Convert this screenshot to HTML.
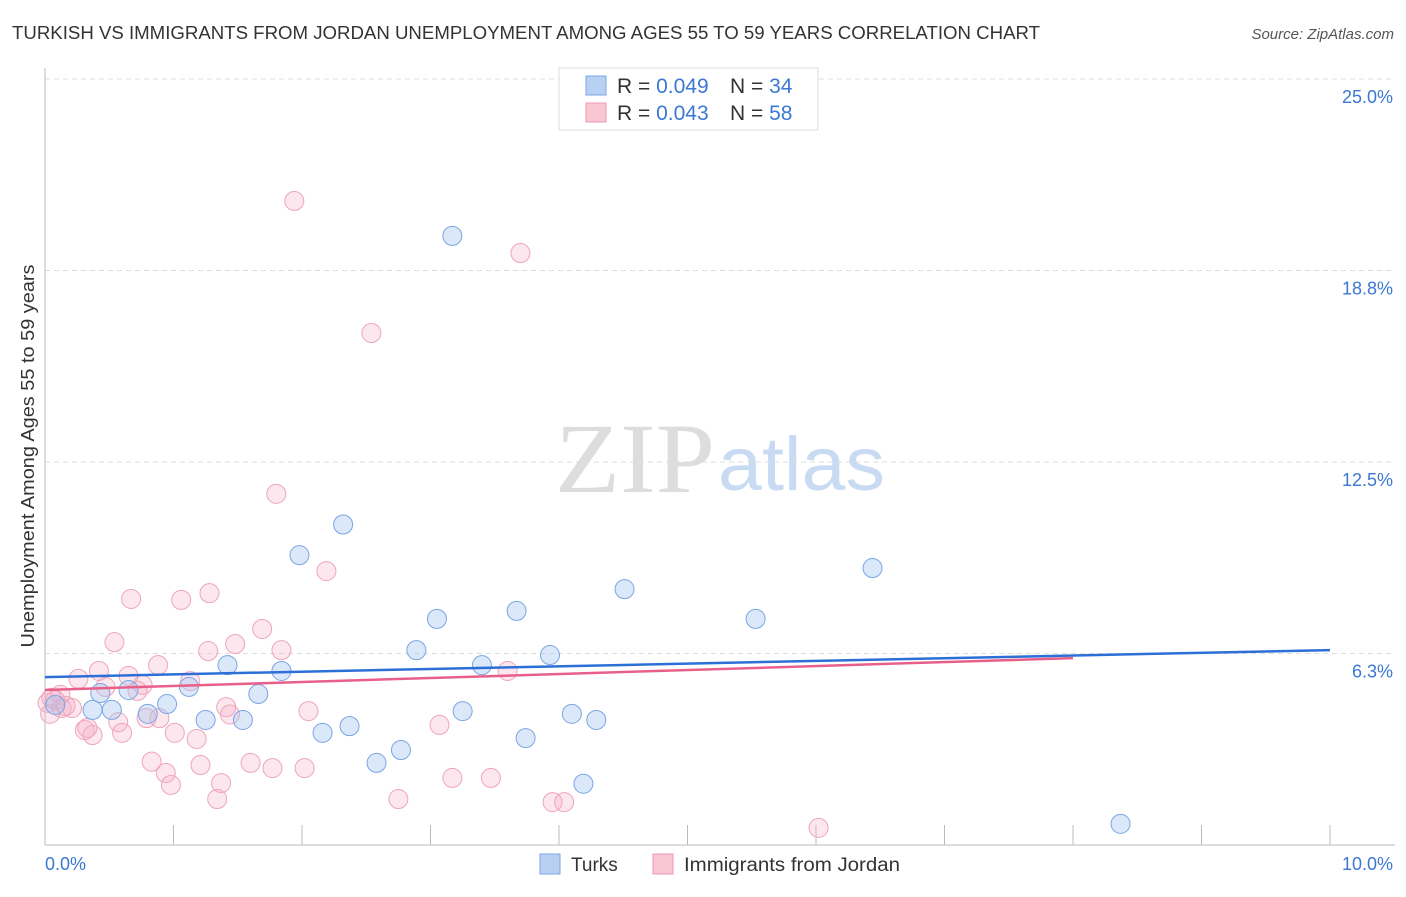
<!DOCTYPE html>
<html><head><meta charset="utf-8"><style>
body{margin:0;background:#fff;font-family:"Liberation Sans",sans-serif}
</style></head><body>
<svg width="1406" height="892" xmlns="http://www.w3.org/2000/svg" font-family="Liberation Sans, sans-serif">
<text x="12" y="39" font-size="18" fill="#333" textLength="1028" lengthAdjust="spacingAndGlyphs">TURKISH VS IMMIGRANTS FROM JORDAN UNEMPLOYMENT AMONG AGES 55 TO 59 YEARS CORRELATION CHART</text>
<text x="1394" y="39" font-size="15" fill="#555" font-style="italic" text-anchor="end">Source: ZipAtlas.com</text>
<text x="555" y="492" font-size="100" fill="#ddd" font-family="Liberation Serif, serif" textLength="160" lengthAdjust="spacingAndGlyphs">ZIP</text>
<text x="718" y="490" font-size="76" fill="#c9dbf3" textLength="167" lengthAdjust="spacingAndGlyphs">atlas</text>
<g id="grid"></g><g id="axes"></g><g id="pts"></g><g id="lines"></g>
<text transform="translate(34,456) rotate(-90)" font-size="18.5" fill="#333" text-anchor="middle" textLength="383" lengthAdjust="spacingAndGlyphs">Unemployment Among Ages 55 to 59 years</text>
<text x="45" y="870" font-size="18" fill="#3b78d4">0.0%</text>
<text x="1393" y="870" font-size="18" fill="#3b78d4" text-anchor="end">10.0%</text>
<g>
<rect x="559" y="68" width="259" height="62" fill="#fff" stroke="#ddd"/>
<rect x="586" y="76" width="20" height="19" fill="#b8d1f3" stroke="#7aa6e3"/>
<rect x="586" y="103" width="20" height="19" fill="#f9c6d4" stroke="#ee9ab2"/>
<text x="617" y="93" font-size="21" fill="#333">R = <tspan fill="#3b78d4">0.049</tspan><tspan x="730">N = </tspan><tspan fill="#3b78d4">34</tspan></text>
<text x="617" y="120" font-size="21" fill="#333">R = <tspan fill="#3b78d4">0.043</tspan><tspan x="730">N = </tspan><tspan fill="#3b78d4">58</tspan></text>
</g>
<g>
<rect x="540" y="854" width="20" height="20" fill="#b8d1f3" stroke="#7aa6e3"/>
<text x="571" y="871" font-size="19" fill="#333">Turks</text>
<rect x="653" y="854" width="20" height="20" fill="#f9c6d4" stroke="#ee9ab2"/>
<text x="684" y="871" font-size="19" fill="#333" textLength="216" lengthAdjust="spacingAndGlyphs">Immigrants from Jordan</text>
</g>
</svg>
<script>
const yTicks=[25.0,18.8,12.5,6.3];
const yTickVals=[25,18.75,12.5,6.25];
const turksX=[3.17,2.32,1.98,6.44,4.51,3.67,3.05,5.53,2.89,3.93,3.40,1.42,1.84,0.65,1.12,0.43,0.08,1.66,0.95,0.37,0.52,0.80,1.25,1.54,3.25,4.10,4.29,2.37,2.16,3.74,2.77,2.58,4.19,8.37];
const turksY=[19.88,10.46,9.46,9.04,8.35,7.64,7.38,7.38,6.36,6.20,5.87,5.87,5.68,5.06,5.16,4.96,4.57,4.93,4.60,4.41,4.41,4.28,4.08,4.08,4.37,4.28,4.08,3.88,3.66,3.49,3.10,2.68,2.00,0.69];
const jorX=[1.94,3.70,2.54,1.80,2.19,0.67,1.06,1.28,1.69,1.48,0.54,1.27,1.84,0.88,0.42,0.65,0.26,1.13,0.47,0.76,0.72,3.60,0.12,0.02,0.13,0.21,1.41,2.05,1.44,0.57,0.79,0.89,3.07,0.31,0.37,0.60,1.01,1.18,0.83,1.60,0.94,1.21,1.77,2.02,0.98,1.37,1.34,2.75,3.17,3.47,3.95,4.04,6.02,0.08,0.16,0.04,0.33,0.05];
const jorY=[21.02,19.32,16.71,11.46,8.94,8.03,8.00,8.22,7.05,6.56,6.62,6.33,6.36,5.87,5.68,5.52,5.42,5.35,5.16,5.22,5.03,5.68,4.90,4.64,4.47,4.47,4.50,4.37,4.26,4.01,4.14,4.14,3.92,3.75,3.59,3.66,3.66,3.46,2.72,2.68,2.35,2.61,2.51,2.51,1.96,2.02,1.50,1.50,2.19,2.19,1.40,1.40,0.56,4.73,4.54,4.28,3.82,4.80];
const regTurks=[5.48,6.36];
const regJor=[5.06,6.10];
const regJorEnd=8;
const xTicks=[0,1,2,3,4,5,6,7,8,9,10];
const NS="http://www.w3.org/2000/svg";
const X=v=>45+v*128.5, Y=v=>845-v*30.64;
function mk(t,a,p){const e=document.createElementNS(NS,t);for(const k in a)e.setAttribute(k,a[k]);document.getElementById(p).appendChild(e);return e;}
yTickVals.forEach((v,i)=>{
 const g=mk('line',{x1:45,x2:1395,y1:Y(v),y2:Y(v),stroke:'#ddd','stroke-dasharray':'5,4'},'grid');
 
 
 const t=mk('text',{x:1393,y:Y(v)+24,'font-size':18,fill:'#3b78d4','text-anchor':'end'},'grid');
 t.textContent=yTicks[i].toFixed(1)+'%';
 
 
});
let a=mk('line',{x1:45,x2:45,y1:68,y2:845,stroke:'#bbb'},'axes');


a=mk('line',{x1:45,x2:1395,y1:845,y2:845,stroke:'#bbb'},'axes');


xTicks.forEach(v=>{const t=mk('line',{x1:X(v),x2:X(v),y1:825,y2:845,stroke:'#bbb'},'axes');
 
 });
function pts(xs,ys,fill,st,name){xs.forEach((x,i)=>{const c=mk('circle',{cx:X(x),cy:Y(ys[i]),r:9.5,fill:fill,stroke:st,'stroke-width':1},'pts');
 
 });}
pts(jorX,jorY,'rgba(245,175,198,0.3)','#eea5ba','jordan-point');
pts(turksX,turksY,'rgba(165,198,240,0.4)','#7aa6e3','turks-point');
let l=mk('line',{x1:X(0),x2:X(10),y1:Y(regTurks[0]),y2:Y(regTurks[1]),stroke:'#2c6fd6','stroke-width':2.5},'lines');


l=mk('line',{x1:X(0),x2:X(regJorEnd),y1:Y(regJor[0]),y2:Y(regJor[1]),stroke:'#e8608a','stroke-width':2.5},'lines');


</script>
</body></html>
